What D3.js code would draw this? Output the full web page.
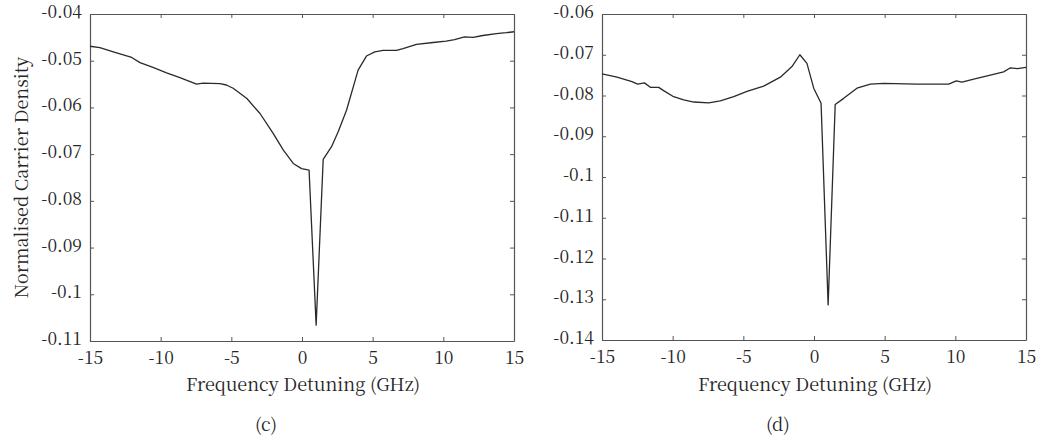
<!DOCTYPE html>
<html>
<head>
<meta charset="utf-8">
<script src="https://cdn.jsdelivr.net/npm/d3@7"></script>
<style>
  html, body { margin: 0; padding: 0; background: #fff; }
</style>
</head>
<body>
<svg id="chart" width="1037" height="441"></svg>
<script>
// ---- data ----
const xTicks = [-15, -10, -5, 0, 5, 10, 15];
const xTickLabels = ["-15", "-10", "-5", "0", "5", "10", "15"];

const cYTicks = [-0.04, -0.05, -0.06, -0.07, -0.08, -0.09, -0.10, -0.11];
const cYTickLabels = ["-0.04", "-0.05", "-0.06", "-0.07", "-0.08", "-0.09", "-0.1", "-0.11"];
const dYTicks = [-0.06, -0.07, -0.08, -0.09, -0.10, -0.11, -0.12, -0.13, -0.14];
const dYTickLabels = ["-0.06", "-0.07", "-0.08", "-0.09", "-0.1", "-0.11", "-0.12", "-0.13", "-0.14"];

// panel (c)
const cFreq = [-15, -14.3, -13.35, -12.05, -11.46, -10.5, -9.58, -8.64, -8.05, -7.46, -6.99, -5.8, -5.35, -4.87,
  -3.9, -2.97, -2.03, -1.33, -0.62, -0.03, 0.5, 1.0, 1.5, 2.09, 2.56, 3.15, 3.97, 4.56, 5.15, 5.74, 6.68,
  7.15, 8.1, 9.28, 10.2, 10.8, 11.5, 12.1, 12.8, 13.75, 14.45, 15];
const cDensity = [-0.0469, -0.0472, -0.0481, -0.0493, -0.0504, -0.0515, -0.0526, -0.0536, -0.0543, -0.0550,
  -0.0548, -0.0549, -0.0552, -0.0559, -0.0581, -0.0613, -0.0656, -0.0691, -0.0720, -0.0731, -0.0734,
  -0.1066, -0.0711, -0.0684, -0.0652, -0.0606, -0.0520, -0.0490, -0.0481, -0.0478, -0.0478, -0.0474,
  -0.0465, -0.0461, -0.0458, -0.0455, -0.0449, -0.0450, -0.0446, -0.0442, -0.0440, -0.0438];

// panel (d)
const dFreq = [-15, -13.94, -12.88, -12.48, -12.0, -11.58, -10.99, -10.64, -9.93, -9.22, -8.5, -7.45, -6.63,
  -5.68, -4.74, -3.56, -2.38, -1.56, -1.0, -0.5, -0.02, 0.5, 1.0, 1.5, 2.1, 3.04, 3.99, 4.93, 7.29, 9.53,
  10.07, 10.47, 11.3, 12.48, 13.42, 13.9, 14.4, 15];
const dDensity = [-0.0747, -0.0755, -0.0766, -0.0772, -0.0769, -0.0780, -0.0780, -0.0788, -0.0803, -0.0811,
  -0.0816, -0.0818, -0.0813, -0.0803, -0.0790, -0.0777, -0.0755, -0.0729, -0.0700, -0.0721, -0.0782,
  -0.0819, -0.1314, -0.0822, -0.0807, -0.0782, -0.0772, -0.0770, -0.0772, -0.0772, -0.0764, -0.0767,
  -0.0760, -0.0750, -0.0742, -0.0732, -0.0734, -0.0731];

const panels = [
  { label: "(c)", freq: cFreq, dens: cDensity, yDomain: [-0.11, -0.04], yTicks: cYTicks, yLabels: cYTickLabels,
    x0: 90, x1: 514, y0: 14, y1: 341, yTitle: "Normalised Carrier Density" },
  { label: "(d)", freq: dFreq, dens: dDensity, yDomain: [-0.14, -0.06], yTicks: dYTicks, yLabels: dYTickLabels,
    x0: 602, x1: 1026, y0: 14, y1: 340, yTitle: null }
];

const FONT = '"Noto Serif CJK SC", "Liberation Serif", serif';
const svg = d3.select("#chart");
const axisColor = "#555";
const textColor = "#262626";
const tickLen = 4;

panels.forEach(p => {
  const x = d3.scaleLinear().domain([-15, 15]).range([p.x0, p.x1]);
  const y = d3.scaleLinear().domain(p.yDomain).range([p.y1, p.y0]);
  const g = svg.append("g");

  const styleAxis = sel => {
    sel.select(".domain").attr("stroke", axisColor).attr("stroke-width", 1.2);
    sel.selectAll(".tick line").attr("stroke", axisColor).attr("stroke-width", 1);
  };

  // bottom axis (ticks inward, labels below)
  const bottom = g.append("g").attr("transform", `translate(0,${p.y1})`)
    .call(d3.axisBottom(x).tickValues(xTicks).tickSizeInner(-tickLen).tickSizeOuter(0)
      .tickFormat((d, i) => xTickLabels[i]).tickPadding(10));
  styleAxis(bottom);
  bottom.selectAll(".tick text").attr("dy", null).attr("y", 23)
    .style("font-family", FONT).style("font-size", "17.5px").style("fill", textColor);

  // top axis (ticks only)
  const top = g.append("g").attr("transform", `translate(0,${p.y0})`)
    .call(d3.axisTop(x).tickValues(xTicks).tickSizeInner(-tickLen).tickSizeOuter(0).tickFormat(""));
  styleAxis(top);

  // left axis
  const left = g.append("g").attr("transform", `translate(${p.x0},0)`)
    .call(d3.axisLeft(y).tickValues(p.yTicks).tickSizeInner(-tickLen).tickSizeOuter(0)
      .tickFormat((d, i) => p.yLabels[i]).tickPadding(8));
  styleAxis(left);
  left.selectAll(".tick text").attr("dy", "0.2em")
    .style("font-family", FONT).style("font-size", "17.5px").style("fill", textColor);

  // right axis (ticks only)
  const right = g.append("g").attr("transform", `translate(${p.x1},0)`)
    .call(d3.axisRight(y).tickValues(p.yTicks).tickSizeInner(-tickLen).tickSizeOuter(0).tickFormat(""));
  styleAxis(right);

  // curve
  const line = d3.line().x((d, i) => x(p.freq[i])).y(d => y(d));
  g.append("path").datum(p.dens)
    .attr("d", line)
    .attr("fill", "none")
    .attr("stroke", "#2a2a2a")
    .attr("stroke-width", 1.3)
    .attr("stroke-linejoin", "round");

  // x title
  g.append("text")
    .attr("x", (p.x0 + p.x1) / 2 + 1)
    .attr("y", 391)
    .attr("text-anchor", "middle")
    .style("font-family", FONT).style("font-size", "18px").style("fill", textColor)
    .text("Frequency Detuning (GHz)");

  // panel label
  g.append("text")
    .attr("x", (p.x0 + p.x1) / 2 - 36)
    .attr("y", 431)
    .attr("text-anchor", "middle")
    .style("font-family", FONT).style("font-size", "18px").style("fill", textColor)
    .text(p.label);

  if (p.yTitle) {
    g.append("text")
      .attr("transform", `translate(28,${(p.y0 + p.y1) / 2}) rotate(-90)`)
      .attr("text-anchor", "middle")
      .style("font-family", FONT).style("font-size", "18px").style("fill", textColor)
      .text(p.yTitle);
  }
});
</script>
</body>
</html>
